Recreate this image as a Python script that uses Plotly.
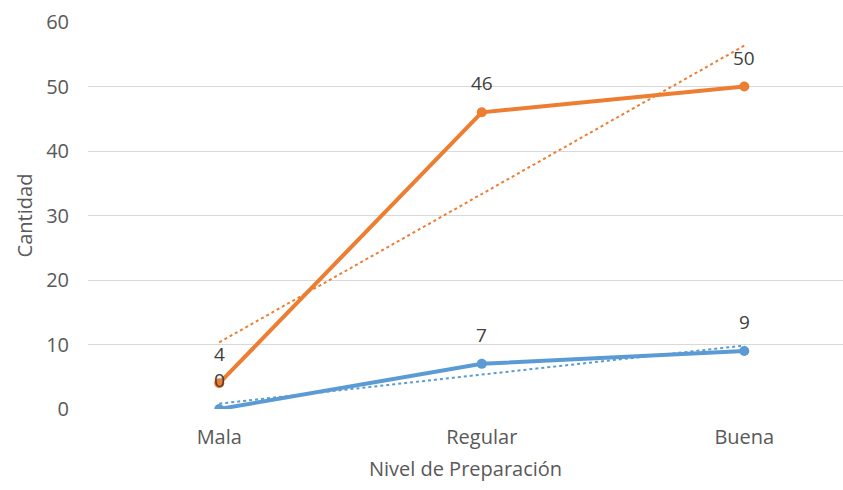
import numpy as np
import plotly.graph_objects as go

categories = ["Mala", "Regular", "Buena"]
serie_naranja = [4, 46, 50]
serie_azul = [0, 7, 9]
y_ticks = [0, 10, 20, 30, 40, 50, 60]

AZUL = "#5B9BD5"
NARANJA = "#ED7D31"
GRIS = "#595959"

xi = np.arange(len(categories))

def trend(vals):
    m, b = np.polyfit(xi, vals, 1)
    return m * xi + b

fig = go.Figure()

for vals, col in [(serie_azul, AZUL), (serie_naranja, NARANJA)]:
    fig.add_trace(go.Scatter(x=xi, y=trend(vals), mode="lines",
                             line=dict(color=col, width=2, dash="dot"),
                             hoverinfo="skip", showlegend=False))

for vals, col in [(serie_azul, AZUL), (serie_naranja, NARANJA)]:
    fig.add_trace(go.Scatter(x=xi, y=vals, mode="lines+markers",
                             line=dict(color=col, width=4),
                             marker=dict(color=col, size=10),
                             showlegend=False))
    for x, v in zip(xi, vals):
        fig.add_annotation(x=x, y=v, text=str(v), showarrow=False,
                           yshift=29, font=dict(color="#404040", size=19))

fig.update_layout(
    width=843, height=490,
    margin=dict(l=88, r=0, t=22, b=81),
    paper_bgcolor="white", plot_bgcolor="white",
    font=dict(family="Open Sans, DejaVu Sans, sans-serif", color=GRIS, size=20),
)
fig.update_xaxes(
    range=[-0.5, 2.376], tickmode="array", tickvals=list(xi), ticktext=categories,
    showgrid=False, zeroline=False, showline=False, ticks="",
    ticklabelstandoff=14,
    title=dict(text="Nivel de Preparación", font=dict(size=20, color=GRIS), standoff=12),
    tickfont=dict(size=20, color=GRIS),
)
fig.update_yaxes(
    range=[0, 60], tickvals=y_ticks, showgrid=True, gridcolor="#D9D9D9", gridwidth=1,
    zeroline=False, showline=False, ticks="", ticklabelstandoff=18,
    title=dict(text="Cantidad", font=dict(size=20, color=GRIS), standoff=8),
    tickfont=dict(size=20, color=GRIS),
)

fig.write_html("out.html")
